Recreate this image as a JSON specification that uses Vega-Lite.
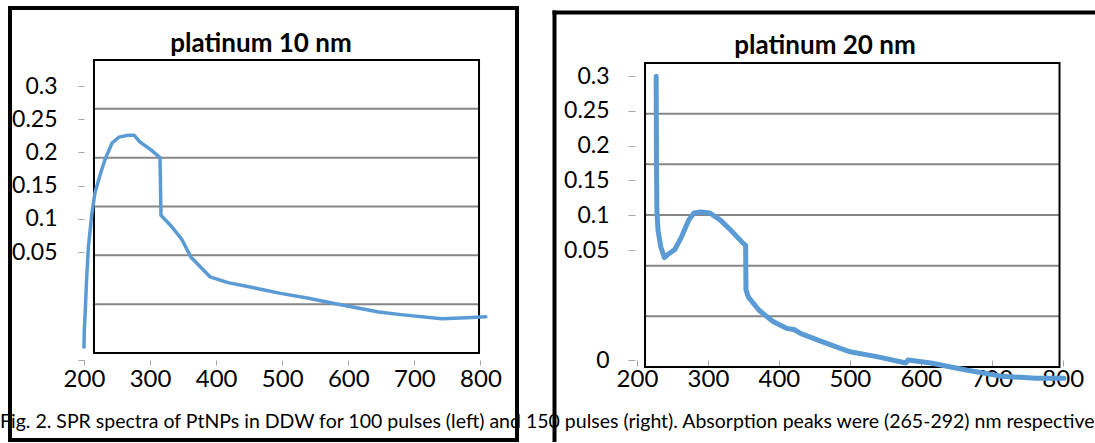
{
  "$schema": "https://vega.github.io/schema/vega-lite/v6.json",
  "padding": {"left": 0, "top": 6, "right": 0, "bottom": 0},
  "spacing": 37,
  "bounds": "flush",
  "background": "white",
  "datasets": {
    "pt10": [
      {"wavelength": 200, "absorbance": 0.006},
      {"wavelength": 200.5, "absorbance": 0.024},
      {"wavelength": 201.8, "absorbance": 0.041},
      {"wavelength": 203.9, "absorbance": 0.075},
      {"wavelength": 206.7, "absorbance": 0.109},
      {"wavelength": 212.0, "absorbance": 0.143},
      {"wavelength": 216.6, "absorbance": 0.164},
      {"wavelength": 224.2, "absorbance": 0.182},
      {"wavelength": 231.8, "absorbance": 0.198},
      {"wavelength": 242.4, "absorbance": 0.215},
      {"wavelength": 253.0, "absorbance": 0.221},
      {"wavelength": 266.6, "absorbance": 0.223},
      {"wavelength": 275.7, "absorbance": 0.223},
      {"wavelength": 284.7, "absorbance": 0.216},
      {"wavelength": 301.4, "absorbance": 0.208},
      {"wavelength": 315.0, "absorbance": 0.200},
      {"wavelength": 316.5, "absorbance": 0.141},
      {"wavelength": 333.2, "absorbance": 0.129},
      {"wavelength": 348.3, "absorbance": 0.116},
      {"wavelength": 361.9, "absorbance": 0.098},
      {"wavelength": 390.7, "absorbance": 0.078},
      {"wavelength": 417.9, "absorbance": 0.072},
      {"wavelength": 455.0, "absorbance": 0.067},
      {"wavelength": 497.5, "absorbance": 0.061},
      {"wavelength": 540.0, "absorbance": 0.056},
      {"wavelength": 576.8, "absorbance": 0.051},
      {"wavelength": 646.1, "absorbance": 0.042},
      {"wavelength": 682.7, "absorbance": 0.039},
      {"wavelength": 741.8, "absorbance": 0.035},
      {"wavelength": 778.8, "absorbance": 0.036},
      {"wavelength": 808.0, "absorbance": 0.037}
    ],
    "pt20": [
      {"wavelength": 227.0, "absorbance": 0.287},
      {"wavelength": 227.5, "absorbance": 0.200},
      {"wavelength": 228.0, "absorbance": 0.155},
      {"wavelength": 229.6, "absorbance": 0.135},
      {"wavelength": 233.4, "absorbance": 0.119},
      {"wavelength": 238.5, "absorbance": 0.108},
      {"wavelength": 243.4, "absorbance": 0.111},
      {"wavelength": 253.3, "absorbance": 0.116},
      {"wavelength": 263.1, "absorbance": 0.129},
      {"wavelength": 273.0, "absorbance": 0.145},
      {"wavelength": 280.3, "absorbance": 0.152},
      {"wavelength": 290.2, "absorbance": 0.153},
      {"wavelength": 302.7, "absorbance": 0.152},
      {"wavelength": 317.5, "absorbance": 0.145},
      {"wavelength": 332.3, "absorbance": 0.135},
      {"wavelength": 349.7, "absorbance": 0.122},
      {"wavelength": 353.1, "absorbance": 0.120},
      {"wavelength": 353.6, "absorbance": 0.076},
      {"wavelength": 357.0, "absorbance": 0.069},
      {"wavelength": 372.0, "absorbance": 0.056},
      {"wavelength": 391.7, "absorbance": 0.045},
      {"wavelength": 411.4, "absorbance": 0.038},
      {"wavelength": 421.3, "absorbance": 0.037},
      {"wavelength": 431.1, "absorbance": 0.033},
      {"wavelength": 460.7, "absorbance": 0.025},
      {"wavelength": 500.2, "absorbance": 0.015},
      {"wavelength": 539.7, "absorbance": 0.010},
      {"wavelength": 579.1, "absorbance": 0.004},
      {"wavelength": 582.0, "absorbance": 0.007},
      {"wavelength": 614.1, "absorbance": 0.004},
      {"wavelength": 663.7, "absorbance": -0.003},
      {"wavelength": 713.0, "absorbance": -0.009},
      {"wavelength": 762.4, "absorbance": -0.011},
      {"wavelength": 801.8, "absorbance": -0.011}
    ],
    "grid": [
      {"level": 0.05}, {"level": 0.1}, {"level": 0.15}, {"level": 0.2}, {"level": 0.25}
    ]
  },
  "title": {
    "text": "Fig. 2. SPR spectra of PtNPs in DDW for 100 pulses (left) and 150 pulses (right). Absorption peaks were (265-292) nm respectively.",
    "orient": "bottom",
    "anchor": "start",
    "frame": "group",
    "baseline": "alphabetic",
    "offset": -14,
    "dx": -10,
    "font": "Lato",
    "fontSize": 19.5,
    "fontWeight": "normal",
    "color": "black"
  },
  "config": {
    "view": {"stroke": "black", "strokeWidth": 4},
    "axis": {"labelFont": "Lato", "labelColor": "black", "tickColor": "#a6a6a6", "domain": false, "grid": false, "labelFlush": false, "labelOverlap": false}
  },
  "hconcat": [
    {
      "width": 507,
      "height": 432,
      "title": {"text": "platinum 10 nm", "font": "Lato", "fontSize": 26, "fontWeight": "bold", "color": "black", "anchor": "middle", "frame": "group", "baseline": "alphabetic", "offset": -70, "dx": -2.5},
      "layer": [
        {
          "layer": [
            {
              "data": {"name": "grid"},
              "mark": {"type": "rule", "color": "#868686", "strokeWidth": 2},
              "encoding": {
                "x": {"datum": 215.1, "type": "quantitative", "scale": {"domain": [88.02, 855.27], "nice": false, "zero": false},
                      "axis": {"values": [200, 300, 400, 500, 600, 700, 800], "orient": "bottom", "offset": -80, "tickSize": 5, "labelFontSize": 24, "labelPadding": 2, "title": null}},
                "x2": {"datum": 797.8},
                "y": {"field": "level", "type": "quantitative", "scale": {"domain": [-0.0891, 0.3532], "nice": false, "zero": false}, "axis": null}
              }
            },
            {
              "data": {"values": [{}]},
              "mark": {"type": "rect", "fillOpacity": 0, "stroke": "black", "strokeWidth": 2},
              "encoding": {
                "x": {"datum": 215.1, "type": "quantitative"},
                "x2": {"datum": 797.8},
                "y": {"datum": 0, "type": "quantitative", "axis": null},
                "y2": {"datum": 0.3}
              }
            },
            {
              "data": {"name": "pt10"},
              "mark": {"type": "line", "color": "#5b9bd5", "strokeWidth": 3.5, "strokeJoin": "round", "strokeCap": "round"},
              "encoding": {
                "x": {"field": "wavelength", "type": "quantitative"},
                "y": {"field": "absorbance", "type": "quantitative", "axis": null}
              }
            }
          ]
        },
        {
          "data": {"values": [{}]},
          "mark": {"type": "point", "opacity": 0},
          "encoding": {
            "y": {"datum": 0.05, "type": "quantitative",
                  "scale": {"domain": [-0.2331, 0.4175], "nice": false, "zero": false},
                  "axis": {"values": [-0.1127, 0.05, 0.1, 0.15, 0.2, 0.25, 0.3], "orient": "left", "offset": -74, "tickSize": 6, "labelPadding": 21, "labelFontSize": 23, "format": ".2~f", "labelExpr": "datum.value < 0 ? '' : datum.label", "title": null}}
          }
        }
      ],
      "resolve": {"scale": {"y": "independent"}}
    },
    {
      "width": 539,
      "height": 433,
      "view": {"stroke": null},
      "title": {"text": "platinum 20 nm", "font": "Lato", "fontSize": 26, "fontWeight": "bold", "color": "black", "anchor": "middle", "frame": "group", "baseline": "alphabetic", "offset": -72, "dx": 1.5},
      "layer": [
        {
          "layer": [
            {
              "data": {"name": "grid"},
              "mark": {"type": "rule", "color": "#868686", "strokeWidth": 2},
              "encoding": {
                "x": {"datum": 211.3, "type": "quantitative", "scale": {"domain": [83.02, 842.7], "nice": false, "zero": false},
                      "axis": {"values": [200, 300, 400, 500, 600, 700, 800], "orient": "bottom", "offset": -81, "tickSize": 6, "labelFontSize": 24, "labelPadding": 1, "title": null}},
                "x2": {"datum": 795.5},
                "y": {"field": "level", "type": "quantitative", "scale": {"domain": [-0.0730, 0.3543], "nice": false, "zero": false}, "axis": null}
              }
            },
            {
              "data": {"values": [{}]},
              "mark": {"type": "rect", "fillOpacity": 0, "stroke": "black", "strokeWidth": 2},
              "encoding": {
                "x": {"datum": 211.3, "type": "quantitative"},
                "x2": {"datum": 795.5},
                "y": {"datum": 0, "type": "quantitative", "axis": null},
                "y2": {"datum": 0.3}
              }
            },
            {
              "data": {"name": "pt20"},
              "mark": {"type": "line", "color": "#5b9bd5", "strokeWidth": 5, "strokeJoin": "round", "strokeCap": "round"},
              "encoding": {
                "x": {"field": "wavelength", "type": "quantitative"},
                "y": {"field": "absorbance", "type": "quantitative", "axis": null}
              }
            }
          ]
        },
        {
          "data": {"values": [{}]},
          "mark": {"type": "point", "opacity": 0},
          "encoding": {
            "y": {"datum": 0.05, "type": "quantitative",
                  "scale": {"domain": [0, 0.05, 0.3], "range": [352, 242, 68], "nice": false, "zero": false},
                  "axis": {"values": [0, 0.05, 0.1, 0.15, 0.2, 0.25, 0.3], "orient": "left", "offset": -81, "tickSize": 7, "labelPadding": 19, "labelFontSize": 23, "format": ".2~f", "title": null}}
          }
        },
        {
          "data": {"values": [{}]},
          "mark": {"type": "point", "opacity": 0},
          "encoding": {
            "x": {"datum": 500, "type": "quantitative",
                  "axis": {"orient": "top", "offset": -4, "domain": true, "domainColor": "black", "domainWidth": 4, "domainCap": "square", "ticks": false, "labels": false, "title": null}},
            "y": {"datum": 0.5, "type": "quantitative",
                  "scale": {"domain": [0, 1], "range": [433, 4], "nice": false, "zero": false},
                  "axis": {"orient": "left", "offset": 0, "domain": true, "domainColor": "black", "domainWidth": 4, "domainCap": "square", "ticks": false, "labels": false, "title": null}}
          }
        }
      ],
      "resolve": {"scale": {"y": "independent"}, "axis": {"x": "independent"}}
    }
  ]
}
